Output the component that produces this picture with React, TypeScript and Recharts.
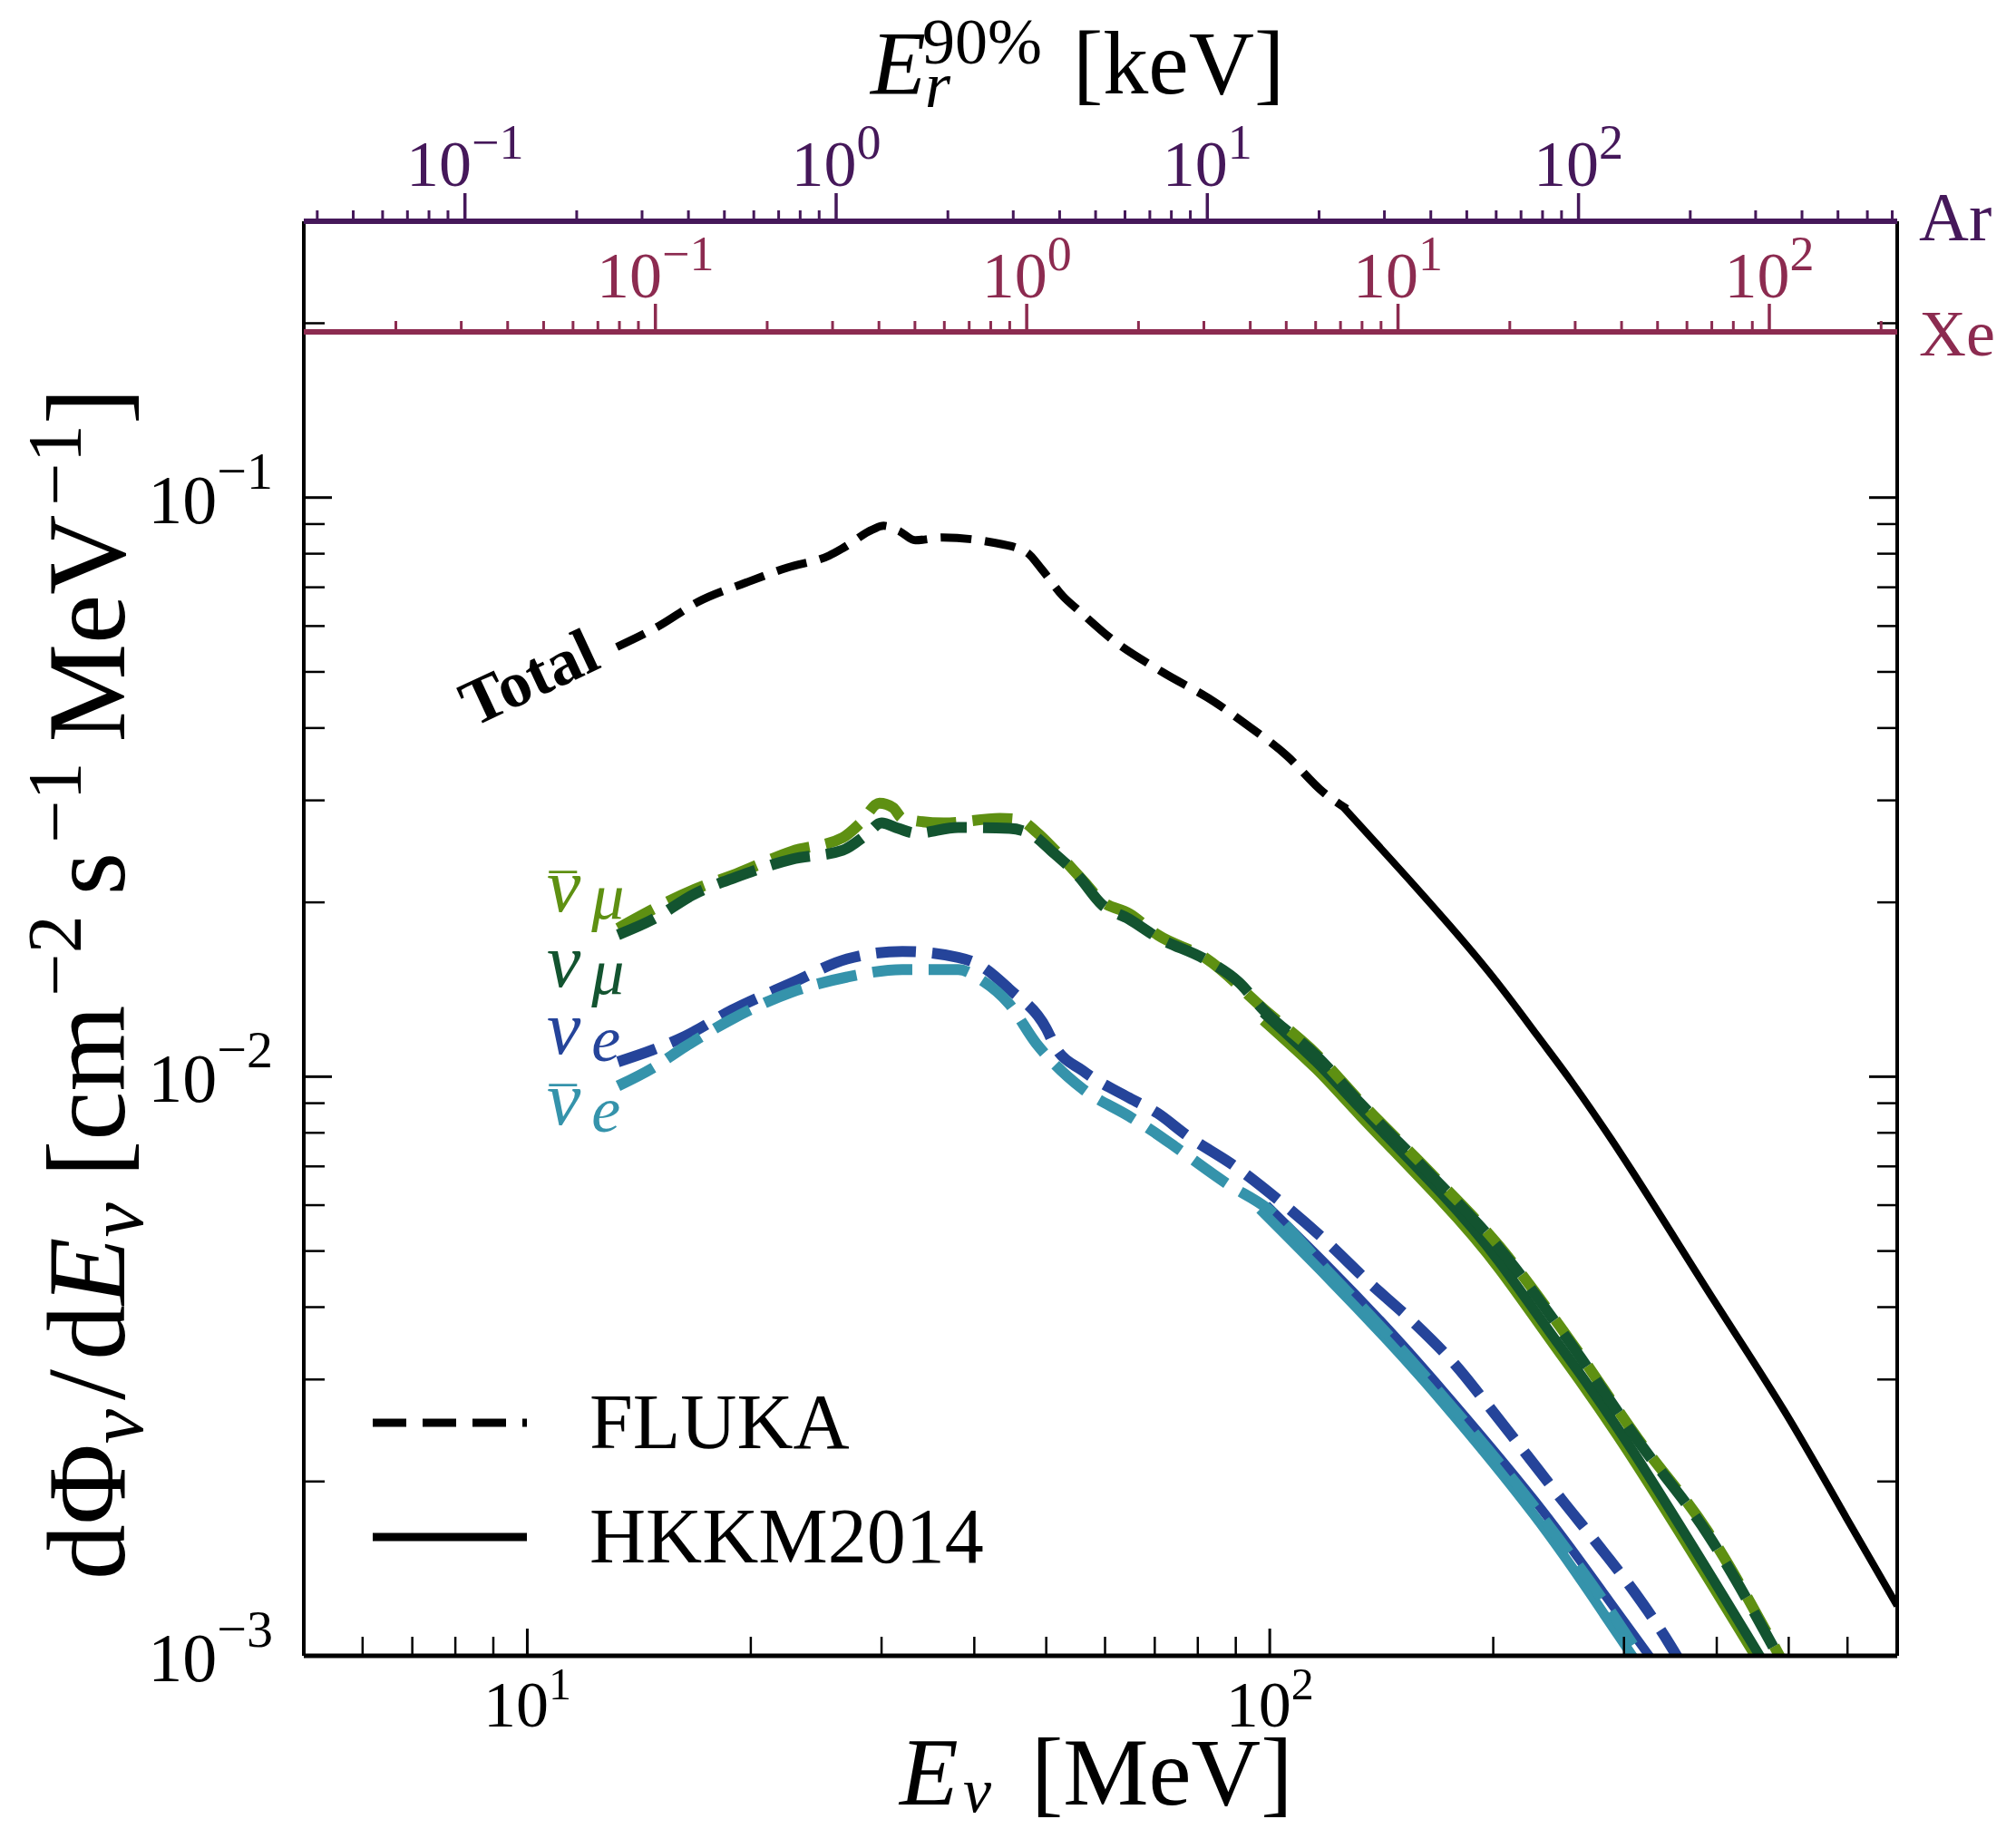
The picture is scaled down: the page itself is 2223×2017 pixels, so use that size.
import React from 'react';
import { LineChart, Line, XAxis, YAxis, Legend } from 'recharts';

const W = 2223;
const H = 2017;
const SERIF = "'Liberation Serif', 'DejaVu Serif', serif";

const AR_COLOR = '#45185a';
const XE_COLOR = '#8c2b50';
const NUMU_BAR = '#5e9012';
const NUMU = '#135430';
const NUE = '#25449a';
const NUE_BAR = '#3593ab';

// [E_nu in MeV, dPhi/dE in cm^-2 s^-1 MeV^-1]
const totalFluka = [
  [13.2, 0.0552], [15.0, 0.0599], [17.0, 0.0661], [19.7, 0.0713], [22.4, 0.0757],
  [25.5, 0.0794], [26.7, 0.082], [29.2, 0.0881], [30.2, 0.0894], [31.7, 0.0875],
  [33.3, 0.0844], [36.3, 0.0853], [42.0, 0.0838], [47.0, 0.0805], [49.3, 0.0752],
  [52.7, 0.0675], [55.4, 0.0637], [61.0, 0.0572], [71.6, 0.05], [84.2, 0.0444],
  [92.7, 0.0407], [105.5, 0.0358], [118, 0.031], [127, 0.029],
];
const totalHkkm = [
  [125, 0.0294], [158.6, 0.021], [197, 0.0152], [229, 0.0118], [255, 0.0098],
  [307, 0.0069], [397, 0.0041], [493, 0.00265], [598, 0.00173], [700, 0.00122],
];
const numuFluka = [
  [13.25, 0.01758], [14.77, 0.0187], [16.8, 0.02068], [19.1, 0.0221], [22.7, 0.02374],
  [26.6, 0.0246], [28.6, 0.02615], [30.0, 0.02742], [31.6, 0.02683], [33.4, 0.02633],
  [38.05, 0.02694], [44.6, 0.02683], [47.9, 0.02615], [50.7, 0.0246], [55.2, 0.02223],
  [59.4, 0.01983], [64.7, 0.0187], [70.6, 0.0174], [82.1, 0.01591], [90.9, 0.01455],
  [98.1, 0.01303], [115.5, 0.01088], [132.5, 0.00899], [164.3, 0.00679], [203.7, 0.00506],
  [252.7, 0.0035], [313.3, 0.002352], [388.9, 0.001622], [490, 0.00097],
];
const numubarFluka = [
  [13.25, 0.01804], [16.8, 0.02106], [19.1, 0.02239], [22.7, 0.0245], [26.6, 0.02587],
  [28.1, 0.02742], [29.8, 0.02966], [31.1, 0.02913], [32.0, 0.02793], [36.4, 0.02742],
  [43.3, 0.02793], [45.9, 0.0278], [48.5, 0.02645], [51.4, 0.0246], [56.0, 0.02183],
  [59.4, 0.0201], [64.7, 0.01912], [70.6, 0.01758], [82.1, 0.016], [98.1, 0.0131],
  [115.5, 0.01095], [132.5, 0.00905], [164.3, 0.00684], [203.7, 0.0051], [252.7, 0.00353],
  [313.3, 0.00237], [388.9, 0.00164], [490, 0.00098],
];
const numuHkkm = [
  [98, 0.0129], [115.5, 0.0106], [132.5, 0.0088], [170, 0.0063], [204, 0.00478],
  [245, 0.00345], [313, 0.00219], [457, 0.001], [475, 0.00092],
];
const numubarHkkm = [
  [98, 0.0125], [115.5, 0.0103], [132.5, 0.00854], [170, 0.00611], [204, 0.00464],
  [245, 0.00335], [313, 0.00212], [457, 0.00097], [475, 0.00089],
];
const nueFluka = [
  [13.25, 0.01061], [14.77, 0.01113], [16.32, 0.01175], [18.84, 0.01302], [22.7, 0.01451],
  [26.96, 0.01597], [32.0, 0.01646], [38.05, 0.01607], [40.6, 0.0156], [44.6, 0.01416],
  [50.0, 0.01211], [51.4, 0.01127], [56.0, 0.01024], [64.7, 0.00919], [70.6, 0.00865],
  [77.2, 0.00793], [89.8, 0.007], [103.1, 0.0061], [118.3, 0.00524], [135.9, 0.00442],
  [155.7, 0.00378], [177, 0.0032], [199.4, 0.00265], [222.1, 0.00222], [247.4, 0.00186],
  [278.4, 0.00154], [309.7, 0.00129], [345.2, 0.00105], [360, 0.00096],
];
const nuebarFluka = [
  [13.25, 0.00964], [14.77, 0.01036], [16.32, 0.01127], [18.84, 0.01256], [22.7, 0.014],
  [26.96, 0.01486], [32.0, 0.01531], [38.05, 0.01531], [40.9, 0.01468], [44.6, 0.01334],
  [48.5, 0.0114], [51.4, 0.01049], [56.0, 0.00952], [64.7, 0.00854], [69.6, 0.00805],
  [75.3, 0.0075], [87.5, 0.00654], [99.1, 0.00593], [120, 0.0046], [143, 0.00363],
  [170, 0.00283], [227, 0.00181], [282, 0.00124], [322, 0.00096],
];
const nueHkkm = [
  [99, 0.006], [120, 0.0047], [143, 0.00372], [170, 0.0029], [227, 0.00186],
  [282, 0.00128], [332, 0.00096],
];
const nuebarHkkm = [
  [97, 0.0059], [120, 0.00448], [143, 0.00354], [170, 0.00276], [227, 0.00175],
  [282, 0.00118], [318, 0.00094],
];

// axes
const E_DOMAIN = [5, 700];
const FLUX_DOMAIN = [0.001, 0.3];
const AR_DOMAIN = [0.0368, 722];
const XE_DOMAIN = [0.0113, 221];
const eTicks = [6, 7, 8, 9, 10, 20, 30, 40, 50, 60, 70, 80, 90, 100, 200, 300, 400, 500, 600];
const fluxTicks = [
  0.001, 0.002, 0.003, 0.004, 0.005, 0.006, 0.007, 0.008, 0.009,
  0.01, 0.02, 0.03, 0.04, 0.05, 0.06, 0.07, 0.08, 0.09, 0.1, 0.2,
];
const arTicks = [
  0.04, 0.05, 0.06, 0.07, 0.08, 0.09, 0.1, 0.2, 0.3, 0.4, 0.5, 0.6, 0.7, 0.8, 0.9,
  1, 2, 3, 4, 5, 6, 7, 8, 9, 10, 20, 30, 40, 50, 60, 70, 80, 90, 100, 200, 300, 400, 500, 600, 700,
];
const xeTicks = [
  0.02, 0.03, 0.04, 0.05, 0.06, 0.07, 0.08, 0.09, 0.1, 0.2, 0.3, 0.4, 0.5, 0.6, 0.7, 0.8, 0.9,
  1, 2, 3, 4, 5, 6, 7, 8, 9, 10, 20, 30, 40, 50, 60, 70, 80, 90, 100, 200,
];

const legendItems = [
  { name: 'FLUKA', dash: '37 18' },
  { name: 'HKKM2014', dash: undefined },
];

const FLUKA_DASH = '44 18';
const series = [
  { key: 'nueHkkm', pts: nueHkkm, color: NUE, width: 10, dash: undefined, curve: 'natural' },
  { key: 'nuebarHkkm', pts: nuebarHkkm, color: NUE_BAR, width: 11, dash: undefined, curve: 'natural' },
  { key: 'nueFluka', pts: nueFluka, color: NUE, width: 12, dash: FLUKA_DASH, curve: 'monotone' },
  { key: 'nuebarFluka', pts: nuebarFluka, color: NUE_BAR, width: 12, dash: FLUKA_DASH, curve: 'monotone' },
  { key: 'numubarHkkm', pts: numubarHkkm, color: NUMU_BAR, width: 11, dash: undefined, curve: 'natural' },
  { key: 'numuHkkm', pts: numuHkkm, color: NUMU, width: 11, dash: undefined, curve: 'natural' },
  { key: 'numubarFluka', pts: numubarFluka, color: NUMU_BAR, width: 12, dash: FLUKA_DASH, curve: 'monotone' },
  { key: 'numuFluka', pts: numuFluka, color: NUMU, width: 12, dash: FLUKA_DASH, curve: 'monotone' },
  { key: 'totalFluka', pts: totalFluka, color: '#000', width: 9, dash: '34 15', curve: 'monotone' },
  { key: 'totalHkkm', pts: totalHkkm, color: '#000', width: 8, dash: undefined, curve: 'natural' },
];

const pow10 = (v: number) => Math.round(Math.log10(v));
const isDecade = (v: number) => Math.abs(Math.log10(v) - pow10(v)) < 1e-9;
const expText = (v: number) => {
  const p = pow10(v);
  return p < 0 ? `\u2212${-p}` : `${p}`;
};

const BottomTick = ({ x, y, payload }: any) => {
  const major = isDecade(payload.value);
  return (
    <g>
      <line x1={x} x2={x} y1={y} y2={y - (major ? 30 : 21)} stroke="#000" strokeWidth={major ? 3 : 2.5} />
      {major && (
        <text x={x} y={y + 78} textAnchor="middle" fontFamily={SERIF} fontSize={72} fill="#000">
          10<tspan dy={-30} fontSize={50}>{expText(payload.value)}</tspan>
        </text>
      )}
    </g>
  );
};

const LeftTick = ({ x, y, payload }: any) => {
  const major = isDecade(payload.value);
  return (
    <g>
      <line x1={x} x2={x + (major ? 31 : 23)} y1={y} y2={y} stroke="#000" strokeWidth={major ? 3 : 2.5} />
      {major && (
        <text x={x - 34} y={y + 28} textAnchor="end" fontFamily={SERIF} fontSize={76} fill="#000">
          10<tspan dy={-38} fontSize={58}>{expText(payload.value)}</tspan>
        </text>
      )}
    </g>
  );
};

const RightTick = ({ x, y, payload }: any) => {
  const major = isDecade(payload.value);
  return (
    <line x1={x} x2={x - (major ? 31 : 22)} y1={y} y2={y} stroke="#000" strokeWidth={major ? 3 : 2.5} />
  );
};

const makeTopTick = (color: string, labelGap: number) => ({ x, y, payload }: any) => {
  const major = isDecade(payload.value);
  return (
    <g>
      <line x1={x} x2={x} y1={y} y2={y - (major ? 31 : 12)} stroke={color} strokeWidth={major ? 3.5 : 3} />
      {major && (
        <text x={x} y={y - labelGap} textAnchor="middle" fontFamily={SERIF} fontSize={72} fill={color}>
          10<tspan dy={-30} fontSize={54}>{expText(payload.value)}</tspan>
        </text>
      )}
    </g>
  );
};
const ArTick = makeTopTick(AR_COLOR, 39);
const XeTick = makeTopTick(XE_COLOR, 38);

const renderLegend = () => (
  <svg width={760} height={260}>
    {legendItems.map((it, i) => (
      <g key={it.name}>
        <line x1={11} x2={181} y1={69 + i * 126} y2={69 + i * 126} stroke="#000" strokeWidth={9} strokeDasharray={it.dash} />
        <text x={250} y={97 + i * 126} fontFamily={SERIF} fontSize={86} fill="#000">{it.name}</text>
      </g>
    ))}
  </svg>
);

const flavourLabels = [
  { nu: 'ν', bar: true, sub: 'μ', color: NUMU_BAR, y: 1005 },
  { nu: 'ν', bar: false, sub: 'μ', color: NUMU, y: 1088 },
  { nu: 'ν', bar: false, sub: 'e', color: NUE, y: 1162 },
  { nu: 'ν', bar: true, sub: 'e', color: NUE_BAR, y: 1240 },
];

// a chart that only carries one top energy-recoil axis, stacked over the main plot
const TopAxisChart = ({ id, ticks, domain, height, color, tick }: any) => (
  <div style={{ position: 'absolute', left: 0, top: 0, pointerEvents: 'none' }}>
    <LineChart width={W} height={height + 60} margin={{ top: 0, right: 131, bottom: 0, left: 335 }} data={ticks.map((t: number) => ({ er: t }))}>
      <XAxis
        xAxisId={id} dataKey="er" orientation="top" type="number" scale="log" domain={domain} allowDataOverflow
        ticks={ticks} interval={0} height={height} tickLine={false} tickSize={0} tickMargin={0}
        axisLine={{ stroke: color, strokeWidth: 6 }} tick={tick}
      />
      <YAxis hide domain={[0, 1]} />
    </LineChart>
  </div>
);

export default function App() {
  return (
    <div style={{ position: 'relative', width: W, height: H, margin: -8, background: '#fff' }}>
      <LineChart width={W} height={H} margin={{ top: 244, right: 0, bottom: 0, left: 0 }}>
        <XAxis
          xAxisId="e" dataKey="e" type="number" scale="log" domain={E_DOMAIN} allowDataOverflow
          ticks={eTicks} interval={0} height={191} tickLine={false} tickSize={0} tickMargin={0}
          axisLine={{ stroke: '#000', strokeWidth: 5 }} tick={(p: any) => <BottomTick {...p} />}
        />
        <YAxis
          yAxisId="flux" type="number" scale="log" domain={FLUX_DOMAIN} allowDataOverflow
          ticks={fluxTicks} interval={0} width={335} tickLine={false} tickSize={0} tickMargin={0}
          axisLine={{ stroke: '#000', strokeWidth: 4 }} tick={(p: any) => <LeftTick {...p} />}
        />
        <YAxis
          yAxisId="right" orientation="right" type="number" scale="log" domain={FLUX_DOMAIN} allowDataOverflow
          ticks={fluxTicks} interval={0} width={131} tickLine={false} tickSize={0} tickMargin={0}
          axisLine={{ stroke: '#000', strokeWidth: 4 }} tick={(p: any) => <RightTick {...p} />}
        />
        {series.map((s) => (
          <Line
            key={s.key}
            xAxisId="e"
            yAxisId="flux"
            data={s.pts.map(([e, f]) => ({ e, flux: f }))}
            dataKey="flux"
            type={s.curve as any}
            stroke={s.color}
            strokeWidth={s.width}
            strokeDasharray={s.dash}
            strokeLinecap="butt"
            dot={false}
            activeDot={false}
            isAnimationActive={false}
          />
        ))}
        <Legend
          layout="horizontal" verticalAlign="middle" align="center"
          wrapperStyle={{ left: 400, top: 1500, width: 760, height: 260 }}
          content={renderLegend}
        />
      </LineChart>

      <TopAxisChart id="xe" ticks={xeTicks} domain={XE_DOMAIN} height={366} color={XE_COLOR} tick={(p: any) => <XeTick {...p} />} />
      <TopAxisChart id="ar" ticks={arTicks} domain={AR_DOMAIN} height={244} color={AR_COLOR} tick={(p: any) => <ArTick {...p} />} />

      <svg width={W} height={H} style={{ position: 'absolute', left: 0, top: 0, pointerEvents: 'none' }}>
        {/* top axis title */}
        <text x={960} y={103} fontFamily={SERIF} fontSize={100} fontStyle="italic">E</text>
        <text x={1017} y={70} fontFamily={SERIF} fontSize={72}>90%</text>
        <text x={1020} y={118} fontFamily={SERIF} fontSize={72} fontStyle="italic">r</text>
        <text x={1183} y={103} fontFamily={SERIF} fontSize={100}>[keV]</text>
        <text x={2116} y={265} fontFamily={SERIF} fontSize={76} fill={AR_COLOR}>Ar</text>
        <text x={2116} y={392} fontFamily={SERIF} fontSize={72} fill={XE_COLOR}>Xe</text>

        {/* bottom axis title */}
        <text x={992} y={1990} fontFamily={SERIF} fontSize={106} fontStyle="italic">E</text>
        <text x={1062} y={1998} fontFamily={SERIF} fontSize={70} fontStyle="italic">ν</text>
        <text x={1137} y={1990} fontFamily={SERIF} fontSize={106}>[MeV]</text>

        {/* y axis title */}
        <text transform="translate(137,1085) rotate(-90)" textAnchor="middle" fontFamily={SERIF} fontSize={122}>
          dΦ<tspan fontStyle="italic" fontSize={86} dy={20}>ν</tspan>
          <tspan dy={-20} dx={10}>/</tspan>
          <tspan dx={10}>d</tspan>
          <tspan fontStyle="italic">E</tspan>
          <tspan fontStyle="italic" fontSize={86} dy={20}>ν</tspan>
          <tspan dy={-20} dx={28}>[cm</tspan>
          <tspan fontSize={84} dy={-48} dx={10}>−2</tspan>
          <tspan dy={48} dx={22}>s</tspan>
          <tspan fontSize={84} dy={-48} dx={10}>−1</tspan>
          <tspan dy={48} dx={22}>MeV</tspan>
          <tspan fontSize={84} dy={-48} dx={10}>−1</tspan>
          <tspan dy={48}>]</tspan>
        </text>

        {/* curve labels */}
        <text transform="translate(522,802) rotate(-25)" fontFamily={SERIF} fontSize={72} fontWeight="bold">Total</text>
        {flavourLabels.map((l) => (
          <g key={l.color} fill={l.color}>
            {l.bar && (
              <text x={601} y={l.y} fontFamily={SERIF} fontSize={60} fontStyle="italic">¯</text>
            )}
            <text x={603} y={l.y} fontFamily={SERIF} fontSize={84} fontStyle="italic">
              {l.nu}
              <tspan dx={12} dy={8} fontSize={72}>{l.sub}</tspan>
            </text>
          </g>
        ))}
      </svg>
    </div>
  );
}
